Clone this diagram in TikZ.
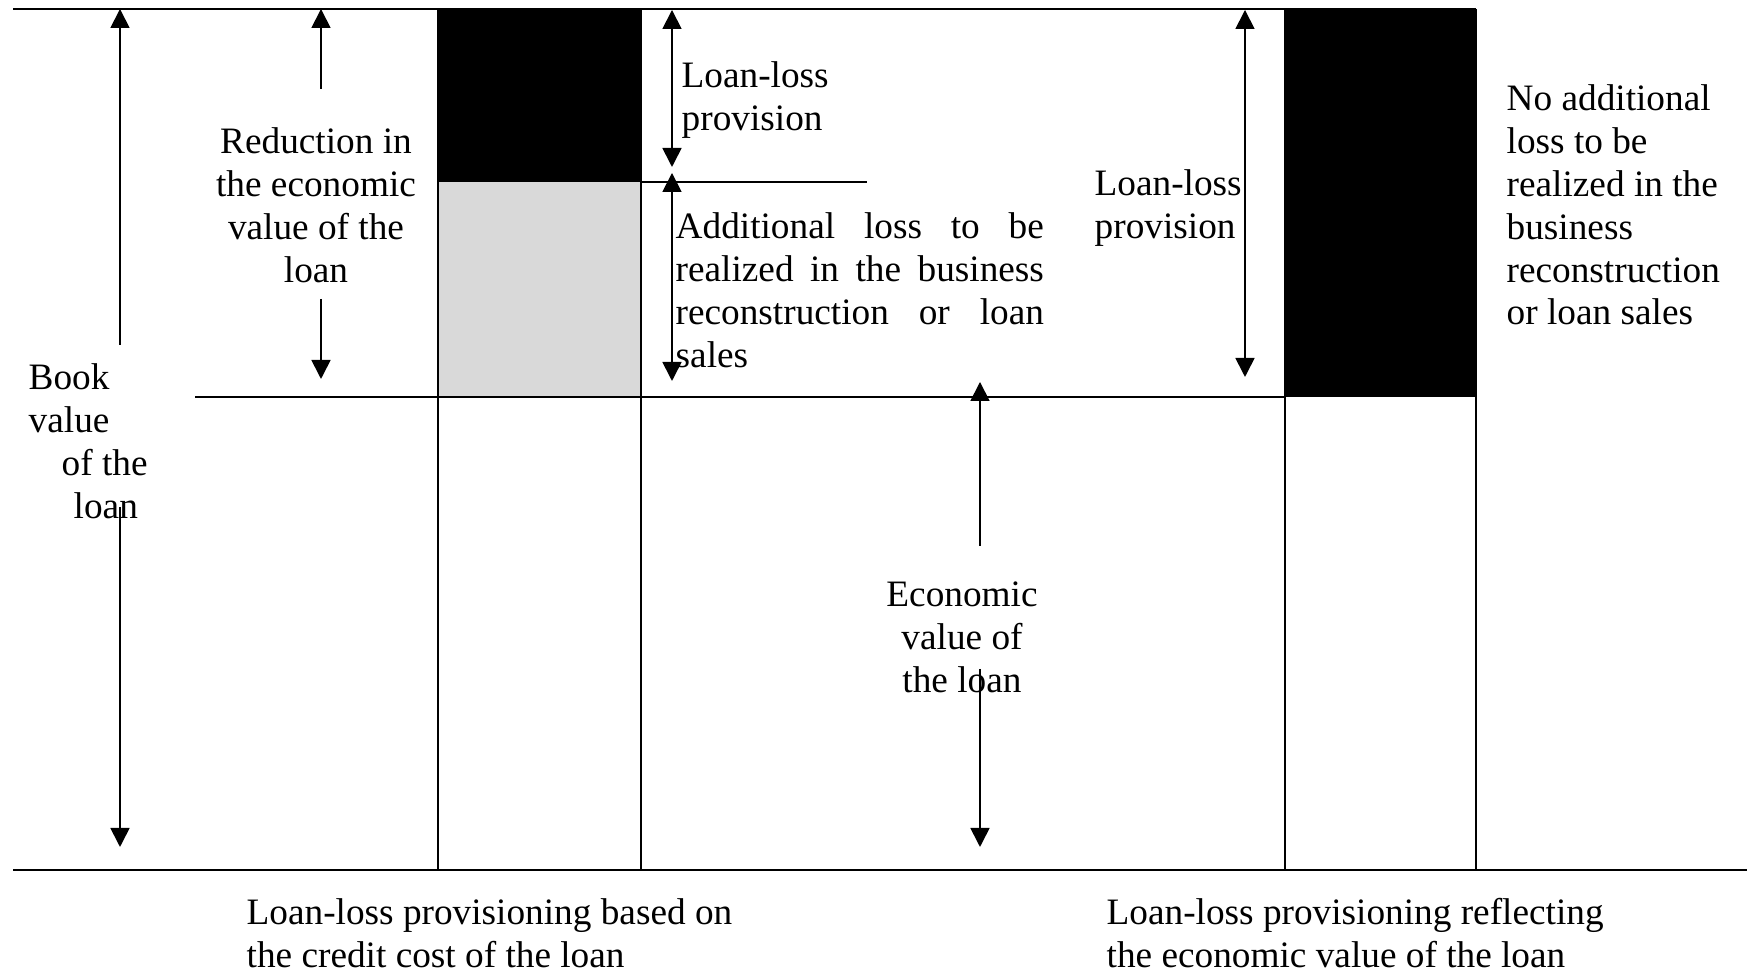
\documentclass[tikz,border=0pt]{standalone}
\usepackage{fontspec}
\setmainfont{Liberation Serif}
\usetikzlibrary{arrows.meta}
\definecolor{lightgrey}{HTML}{D9D9D9}
\tikzset{
  hline/.style={line width=0.75pt},
  vline/.style={line width=0.6pt},
  tip/.tip={Triangle[length=1.9mm,width=1.9mm]},
  arr/.style={line width=0.5pt,-tip},
  darr/.style={line width=0.5pt,tip-tip},
  lbl/.style={inner sep=0pt,font=\fontsize{10.6}{12.2}\selectfont},
}
\begin{document}
\begin{tikzpicture}[x=0.01cm,y=-0.01cm]
\useasboundingbox (0,0) rectangle (1747,971);
% filled regions
\fill[black] (438,9) rectangle (641,182);
\fill[lightgrey] (438,182) rectangle (641,397);
\fill[black] (1285,9) rectangle (1476,397);
% lines
\draw[hline] (13,9) -- (1476,9);
\draw[hline] (195,397) -- (1285,397);
\draw[hline] (13,870) -- (1747,870);
\draw[vline] (641,182) -- (867,182);
\draw[vline] (438,9) -- (438,870);
\draw[vline] (641,9) -- (641,870);
\draw[vline] (1285,9) -- (1285,870);
\draw[vline] (1476,9) -- (1476,870);
% coordinates
\coordinate (bookA) at (120,345);
\coordinate (bookT) at (120,9);
\coordinate (bookB) at (120,507);
\coordinate (bookE) at (120,847);
\coordinate (redA) at (321,89);
\coordinate (redT) at (321,9);
\coordinate (redB) at (321,299);
\coordinate (redE) at (321,379);
\coordinate (llpT) at (672,10);
\coordinate (llpB) at (672,167);
\coordinate (addT) at (672,173);
\coordinate (addB) at (672,381);
\coordinate (rllpT) at (1245,10);
\coordinate (rllpB) at (1245,377);
\coordinate (ecoA) at (980,546);
\coordinate (ecoT) at (980,382);
\coordinate (ecoB) at (980,669);
\coordinate (ecoE) at (980,847);
% arrows
\draw[arr] (bookA) -- (bookT);
\draw[arr] (bookB) -- (bookE);
\draw[arr] (redA) -- (redT);
\draw[arr] (redB) -- (redE);
\draw[darr] (llpT) -- (llpB);
\draw[darr] (addT) -- (addB);
\draw[darr] (rllpT) -- (rllpB);
\draw[arr] (ecoA) -- (ecoT);
\draw[arr] (ecoB) -- (ecoE);
% labels
\node[lbl,anchor=west,align=left] (book) at (28,441)
  {Book\\value\\\hspace*{0.33cm}of the\\\hspace*{0.45cm}loan};
\node[lbl,align=center] (red) at (316,205)
  {Reduction in\\the economic\\value of the\\loan};
\node[lbl,anchor=west,align=left] (llp) at (681,100)
  {Loan-loss\\provision};
\node[lbl,anchor=west,align=left] (add) at (675,290)
  {\makebox[3.68cm][s]{Additional loss to be}\\
   \makebox[3.68cm][s]{realized in the business}\\
   \makebox[3.68cm][s]{reconstruction or loan}\\
   sales};
\node[lbl,anchor=west,align=left] (rllp) at (1094,208)
  {Loan-loss\\provision};
\node[lbl,align=center] (eco) at (962,637)
  {Economic\\value of\\the loan};
\node[lbl,anchor=west,align=left] (noadd) at (1506,205)
  {No additional\\loss to be\\realized in the\\business\\reconstruction\\or loan sales};
\node[lbl,anchor=west,align=left] (capL) at (246,933)
  {Loan-loss provisioning based on\\the credit cost of the loan};
\node[lbl,anchor=west,align=left] (capR) at (1106,933)
  {Loan-loss provisioning reflecting\\the economic value of the loan};
\end{tikzpicture}
\end{document}
